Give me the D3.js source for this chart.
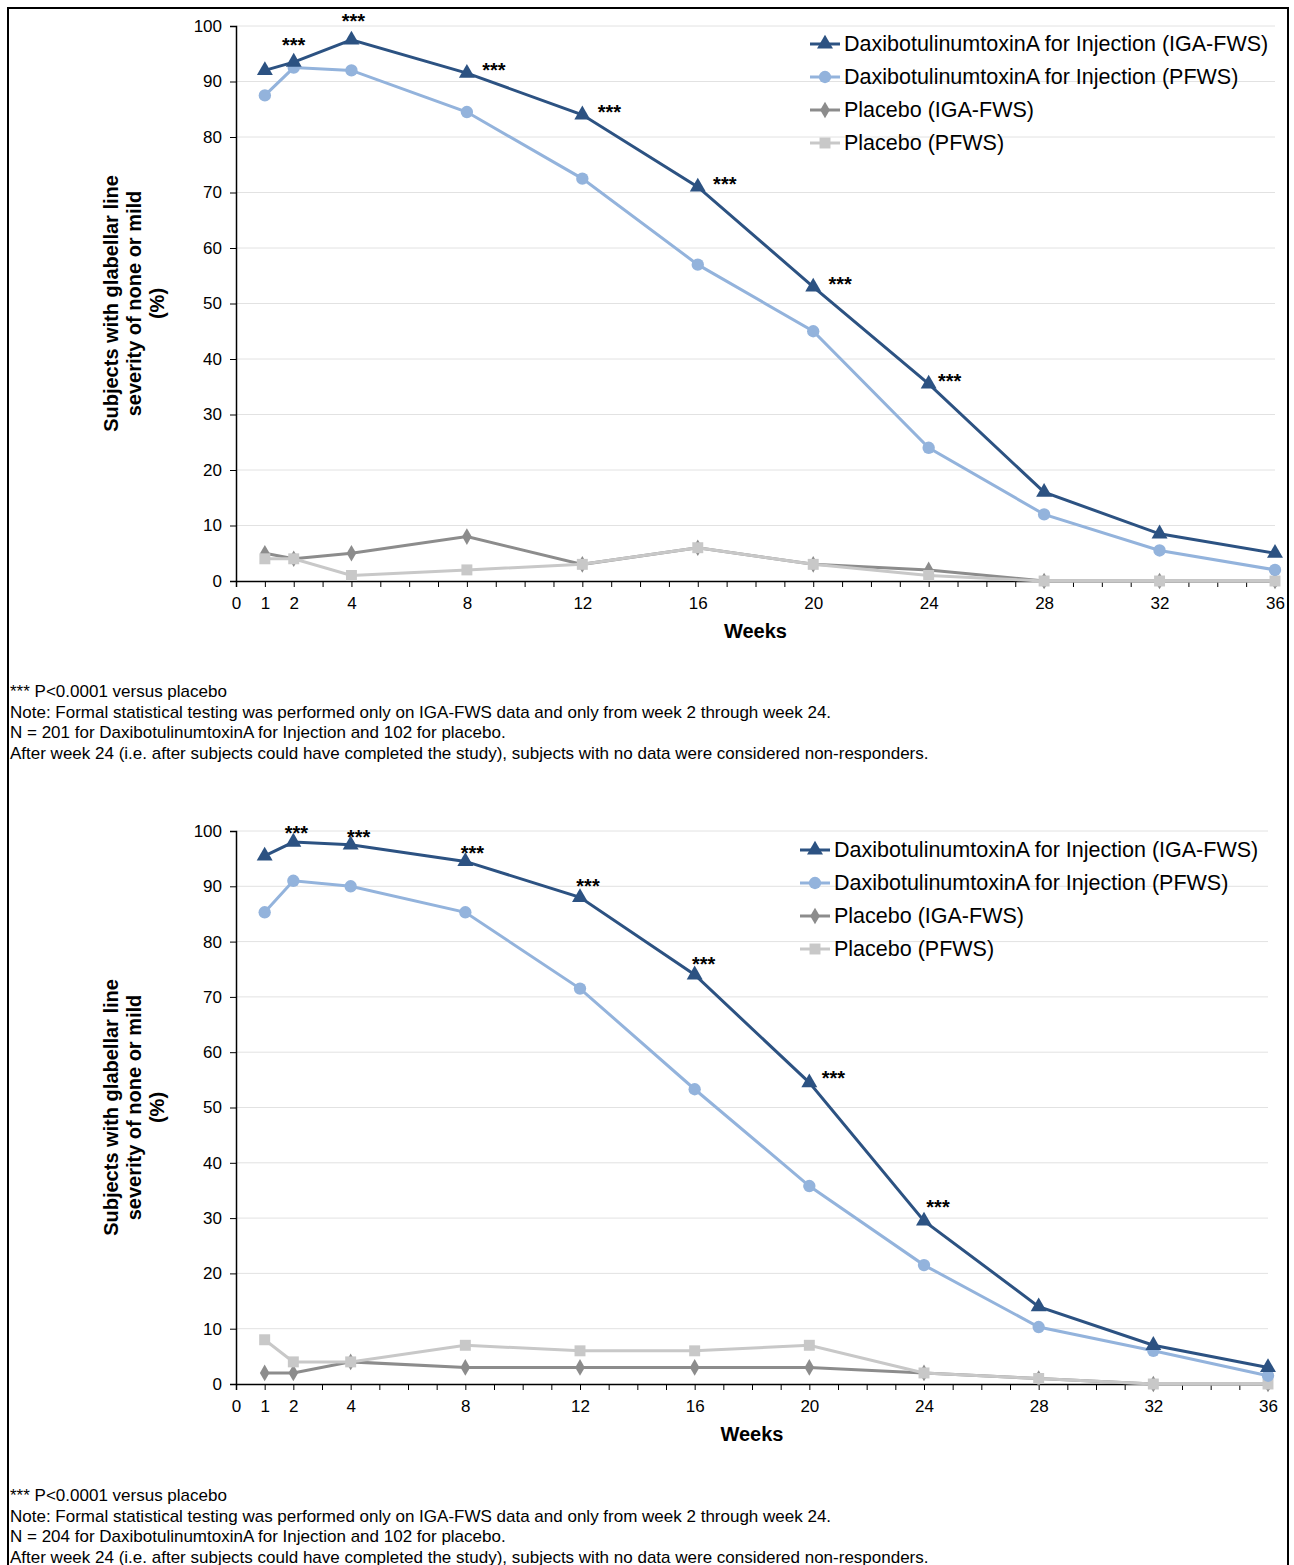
<!DOCTYPE html>
<html><head><meta charset="utf-8">
<script src="https://cdn.jsdelivr.net/npm/d3@7"></script>
<style>body{margin:0;background:#fff}svg{font-family:Arial,"Liberation Sans",sans-serif}</style>
</head><body><svg id="canvas" width="1294" height="1565"></svg>
<script>
const weeks = [1, 2, 4, 8, 12, 16, 20, 24, 28, 32, 36]
const xTicks = [0, 1, 2, 4, 8, 12, 16, 20, 24, 28, 32, 36]
const seriesNames = ["DaxibotulinumtoxinA for Injection (IGA-FWS)", "DaxibotulinumtoxinA for Injection (PFWS)", "Placebo (IGA-FWS)", "Placebo (PFWS)"]

const topDaxiIga = [92, 93.5, 97.5, 91.5, 84, 71, 53, 35.5, 16, 8.5, 5]
const topDaxiPfws = [87.5, 92.5, 92, 84.5, 72.5, 57, 45, 24, 12, 5.5, 2]
const topPlaIga = [5, 4, 5, 8, 3, 6, 3, 2, 0, 0, 0]
const topPlaPfws = [4, 4, 1, 2, 3, 6, 3, 1, 0, 0, 0]
const topStars = [2, 4, 8, 12, 16, 20, 24]

const botDaxiIga = [95.5, 98, 97.5, 94.5, 88, 74, 54.5, 29.5, 14, 7, 3]
const botDaxiPfws = [85.3, 91, 90, 85.3, 71.5, 53.3, 35.8, 21.5, 10.3, 6, 1.5]
const botPlaIga = [2, 2, 4, 3, 3, 3, 3, 2, 1, 0, 0]
const botPlaPfws = [8, 4, 4, 7, 6, 6, 7, 2, 1, 0, 0]
const botStars = [2, 4, 8, 12, 16, 20, 24]

const topNotes = ["*** P<0.0001 versus placebo",
  "Note: Formal statistical testing was performed only on IGA-FWS data and only from week 2 through week 24.",
  "N = 201 for DaxibotulinumtoxinA for Injection and 102 for placebo.",
  "After week 24 (i.e. after subjects could have completed the study), subjects with no data were considered non-responders."]
const botNotes = ["*** P<0.0001 versus placebo",
  "Note: Formal statistical testing was performed only on IGA-FWS data and only from week 2 through week 24.",
  "N = 204 for DaxibotulinumtoxinA for Injection and 102 for placebo.",
  "After week 24 (i.e. after subjects could have completed the study), subjects with no data were considered non-responders."]

const colors = ["#2c5282", "#93b3dc", "#8c8c8c", "#c8c8c8"]
const symbols = [d3.symbolTriangle, d3.symbolCircle, d3.symbolDiamond, d3.symbolSquare]
const symSizes = [110, 120, 80, 120]
const drawOrder = [2, 3, 1, 0]

let svg = d3.select("#canvas")

svg.append("rect").attr("x", 8).attr("y", 8).attr("width", 1280).attr("height", 1570)
  .attr("fill", "none").attr("stroke", "#000").attr("stroke-width", 2)

const drawChart = (cfg) => {
  const x = d3.scaleLinear().domain([0, 36]).range([cfg.x0, cfg.x1])
  const y = d3.scaleLinear().domain([0, 100]).range([cfg.y0, cfg.y1])
  const g = svg.append("g")

  // grid
  g.selectAll(".grid").data(d3.range(10, 101, 10)).enter().append("line")
    .attr("x1", cfg.x0).attr("x2", cfg.x1).attr("y1", d => y(d)).attr("y2", d => y(d))
    .attr("stroke", "#e2e2e2").attr("stroke-width", 1)

  const yAxis = d3.axisLeft(y).tickValues(d3.range(0, 101, 10)).tickSize(6).tickPadding(8)
  const ya = g.append("g").attr("transform", "translate(" + cfg.x0 + ",0)").call(yAxis)
  ya.selectAll("text").style("font-size", "17px")

  const xAxis = d3.axisBottom(x).tickValues(d3.range(0, 37)).tickSize(6)
    .tickFormat(d => xTicks.includes(d) ? d : "")
  const xa = g.append("g").attr("transform", "translate(0," + cfg.y0 + ")").call(xAxis)
  xa.selectAll("text").style("font-size", "17px").attr("dy", "1.1em")
  g.selectAll(".domain").attr("stroke", "#000").attr("stroke-width", 1.5)

  const series = cfg.data
  drawOrder.forEach(i => {
    const line = d3.line().x((d, j) => x(weeks[j])).y(d => y(d))
    g.append("path").datum(series[i]).attr("d", line).attr("fill", "none")
      .attr("stroke", colors[i]).attr("stroke-width", 3)
    g.selectAll(".pt" + i).data(series[i]).enter().append("path")
      .attr("d", d3.symbol().type(symbols[i]).size(symSizes[i]))
      .attr("transform", (d, j) => "translate(" + x(weeks[j]) + "," + y(d) + ")")
      .attr("fill", colors[i])
  })

  // significance stars
  g.selectAll(".star").data(cfg.stars).enter().append("text")
    .attr("x", (d, k) => x(d) + cfg.starOff[k][0])
    .attr("y", (d, k) => y(series[0][weeks.indexOf(d)]) + cfg.starOff[k][1])
    .attr("text-anchor", "middle").style("font-size", "20px").style("font-weight", "bold").text("***")

  // legend
  seriesNames.forEach((n, i) => {
    const ly = cfg.legY + i * 33
    g.append("line").attr("x1", cfg.legX).attr("x2", cfg.legX + 30).attr("y1", ly).attr("y2", ly)
      .attr("stroke", colors[i]).attr("stroke-width", 3)
    g.append("path").attr("d", d3.symbol().type(symbols[i]).size(symSizes[i])())
      .attr("transform", "translate(" + (cfg.legX + 15) + "," + ly + ")").attr("fill", colors[i])
    g.append("text").attr("x", cfg.legX + 34).attr("y", ly + 7).style("font-size", "21.5px").text(n)
  })

  // axis labels
  const lbl = g.append("text").attr("transform", "translate(" + cfg.ylX + "," + ((cfg.y0 + cfg.y1) / 2) + ") rotate(-90)")
    .attr("text-anchor", "middle").style("font-size", "20px").style("font-weight", "bold")
  ;["Subjects with glabellar line", "severity of none or mild", "(%)"].forEach((t, k) => {
    lbl.append("tspan").attr("x", 0).attr("dy", k === 0 ? 0 : "1.15em").text(t)
  })
  g.append("text").attr("x", (cfg.x0 + cfg.x1) / 2).attr("y", cfg.y0 + 57).attr("text-anchor", "middle")
    .style("font-size", "20px").style("font-weight", "bold").text("Weeks")

  cfg.notes.forEach((t, k) => {
    g.append("text").attr("x", 10).attr("y", cfg.noteY + k * 20.7).style("font-size", "17px").text(t)
  })
}

drawChart({
  x0: 236, x1: 1275, y0: 581, y1: 26,
  data: [topDaxiIga, topDaxiPfws, topPlaIga, topPlaPfws],
  stars: topStars,
  starOff: [[0, -10], [2, -12], [27, 4], [27, 4], [27, 4], [27, 4], [21, 4]],
  legX: 810, legY: 44, ylX: 118, notes: topNotes, noteY: 697
})

drawChart({
  x0: 236, x1: 1268, y0: 1384, y1: 831,
  data: [botDaxiIga, botDaxiPfws, botPlaIga, botPlaPfws],
  stars: botStars,
  starOff: [[3, -2], [8, -1], [7, -1], [8, -4], [9, -4], [24, 2], [14, -7]],
  legX: 800, legY: 850, ylX: 118, notes: botNotes, noteY: 1501
})
</script></body></html>
